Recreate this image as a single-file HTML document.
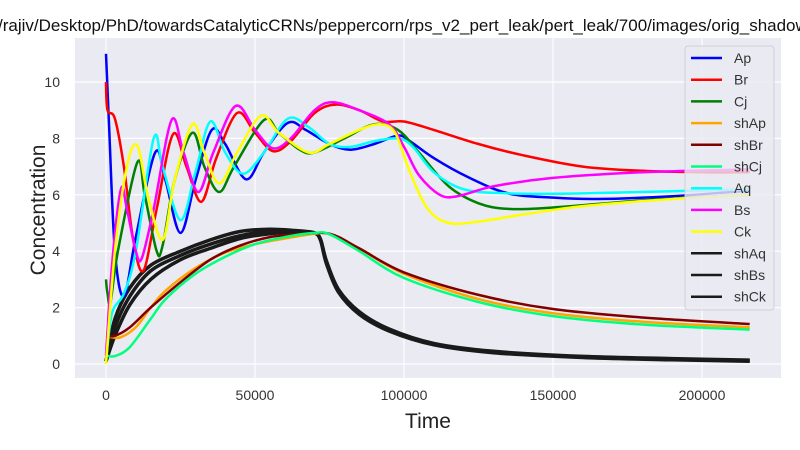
<!DOCTYPE html>
<html><head><meta charset="utf-8"><style>
body{margin:0;background:#fff}
svg{font-family:"Liberation Sans",Arial,sans-serif;display:block}
</style></head><body>
<svg id="chart" width="800" height="450" viewBox="0 0 800 450">
<text x="-2" y="31" font-size="17" fill="#111">/rajiv/Desktop/PhD/towardsCatalyticCRNs/peppercorn/rps_v2_pert_leak/pert_leak/700/images/orig_shadow_plot.png</text>
<rect x="75" y="38" width="706" height="340" fill="#eaeaf2"/>
<g id="grid"></g>
<g id="series"></g>
<g id="ticks"></g>
<text x="428" y="428" font-size="21" text-anchor="middle" fill="#222">Time</text>
<text transform="translate(45,210) rotate(-90)" font-size="21" text-anchor="middle" fill="#222">Concentration</text>
<g id="legend"></g>
</svg>
<script>
const xTicks=[0,50000,100000,150000,200000];
const yTicks=[0,2,4,6,8,10];
const names=["Ap","Br","Cj","shAp","shBr","shCj","Aq","Bs","Ck","shAq","shBs","shCk"];
const colors=["#0000ff","#ff0000","#008000","#ffa500","#800000","#00ff7f","#00ffff","#ff00ff","#ffff00","#1a1a1a","#1a1a1a","#1a1a1a"];
// points: [time in thousands, concentration]
const Ap=[[0,11],[1,8.5],[3,4],[6,2.4],[10,4.5],[16.5,7.5],[20,6.5],[25,4.65],[30,6.5],[35.5,8.3],[40,7.8],[47,6.55],[53,7.5],[61,8.55],[67,8.3],[75,7.8],[82,7.6],[90,7.8],[98,8.1],[102,7.9],[110,7.3],[122,6.6],[135,6.05],[150,5.9],[165,5.85],[190,5.95],[216,6.15]];
const Br=[[0,10],[0.5,9],[3,8.7],[6,7],[9,4.5],[12.5,3.3],[17,5.5],[22.5,8.15],[27,7],[32,5.75],[37,7.3],[44,8.9],[50,8.2],[56,7.55],[62,7.9],[70,8.9],[77,9.2],[85,9.0],[93,8.6],[100,8.6],[110,8.3],[125,7.8],[140,7.4],[160,7.0],[180,6.85],[200,6.8],[216,6.8]];
const Cj=[[0,3],[0.5,2.5],[1.5,2.2],[4,4],[10.5,7.15],[13,6],[17,4],[19,4.2],[23,6.5],[29,8.2],[33,7],[38,6.1],[43,7],[53,8.65],[58,8.2],[65,7.6],[70,7.5],[80,8],[90,8.5],[98,8.3],[105,7.5],[115,6.3],[125,5.7],[135,5.5],[150,5.55],[180,5.8],[216,6.0]];
const shAp=[[0,1],[2,0.95],[5,0.95],[10,1.3],[15,2],[20,2.6],[30,3.4],[40,3.95],[50,4.25],[60,4.45],[70,4.62],[75,4.6],[85,4.1],[100,3.2],[125,2.3],[150,1.8],[180,1.5],[216,1.3]];
const shBr=[[0,1],[3,1],[8,1.3],[15,2],[25,2.9],[35,3.7],[45,4.2],[55,4.5],[65,4.6],[75,4.62],[85,4.1],[100,3.25],[125,2.45],[150,1.95],[180,1.65],[216,1.42]];
const shCj=[[0,0.3],[3,0.28],[8,0.6],[15,1.6],[20,2.3],[30,3.2],[40,3.8],[50,4.25],[60,4.5],[70,4.65],[75,4.6],[85,4.0],[100,3.05],[125,2.2],[150,1.7],[180,1.4],[216,1.22]];
const Aq=[[0,0.1],[2,1.8],[6,2.5],[10,4],[16,8.0],[19,7],[25,5.1],[30,6.8],[35,8.6],[40,7.5],[46,6.75],[53,7.5],[61,8.7],[68,8.4],[75,7.8],[82,7.7],[90,7.9],[98,8.0],[103,7.7],[110,6.8],[120,6.2],[135,6.05],[160,6.05],[216,6.2]];
const Bs=[[0,0.3],[2,3.5],[5,6.2],[7,5.5],[10,4],[12,3.75],[16,5.5],[22,8.65],[26,7.5],[31,6.1],[36,7.5],[43.5,9.15],[50,8.3],[56,7.65],[62,8],[70,9],[76,9.28],[85,9.0],[95,8.5],[100,7.7],[105,6.7],[112,6.0],[118,5.95],[130,6.3],[150,6.6],[180,6.8],[216,6.9]];
const Ck=[[0,0],[3,4],[7,7],[10.5,7.75],[14,6],[19,4.4],[23,6.5],[29,8.5],[33,7.5],[38,6.4],[44,7.5],[52,8.8],[58,8.2],[68,7.5],[75,7.8],[85,8.3],[92,8.5],[97,8.2],[102,6.8],[108,5.5],[115,5.0],[125,5.05],[140,5.3],[160,5.6],[190,5.85],[216,6.0]];
const shAq=[[0,0.1],[3,1.6],[8,2.7],[15,3.5],[25,4.0],[35,4.4],[45,4.7],[55,4.78],[65,4.72],[70,4.65],[72,4.4],[74,3.6],[78,2.6],[85,1.8],[95,1.2],[110,0.7],[130,0.42],[160,0.25],[190,0.17],[216,0.12]];
const shBs=[[0,0.1],[3,1.3],[8,2.4],[15,3.3],[25,3.85],[35,4.25],[45,4.55],[55,4.7],[65,4.7],[70,4.65],[72,4.42],[74,3.65],[78,2.65],[85,1.85],[95,1.24],[110,0.73],[130,0.45],[160,0.27],[190,0.19],[216,0.14]];
const shCk=[[0,0.1],[3,1.0],[8,2.1],[15,3.0],[25,3.7],[35,4.1],[45,4.45],[55,4.62],[65,4.68],[70,4.65],[72,4.38],[74,3.55],[78,2.55],[85,1.76],[95,1.17],[110,0.68],[130,0.4],[160,0.23],[190,0.15],[216,0.1]];
const seriesData=[Ap,Br,Cj,shAp,shBr,shCj,Aq,Bs,Ck,shAq,shBs,shCk];
const drawOrder=[9,10,11,3,4,5,0,1,2,6,7,8];

const NS="http://www.w3.org/2000/svg";
function X(t){return 106+t/50000*149;}
function Y(v){return 364-v*28.2;}
function mk(tag,attrs,parent){const e=document.createElementNS(NS,tag);for(const k in attrs)e.setAttribute(k,attrs[k]);parent.appendChild(e);return e;}
const grid=document.getElementById('grid'),ticks=document.getElementById('ticks');
xTicks.forEach(t=>{
  const l=mk('line',{x1:X(t),x2:X(t),y1:38,y2:378,stroke:'#fff','stroke-width':1.2},grid);
  
  
  const tx=mk('text',{x:X(t),y:400,'font-size':14,'text-anchor':'middle',fill:'#333'},ticks);
  tx.textContent=t;
  
  
});
yTicks.forEach(v=>{
  const l=mk('line',{x1:75,x2:781,y1:Y(v),y2:Y(v),stroke:'#fff','stroke-width':1.2},grid);
  
  
  const tx=mk('text',{x:60,y:Y(v)+5,'font-size':14,'text-anchor':'end',fill:'#333'},ticks);
  tx.textContent=v;
  
  
});
function pathFor(pts){
  const p=pts.map(d=>[X(d[0]*1000),Y(d[1])]);
  let s='M'+p[0][0].toFixed(1)+','+p[0][1].toFixed(1);
  for(let i=0;i<p.length-1;i++){
    const p0=p[i-1]||p[i],p1=p[i],p2=p[i+1],p3=p[i+2]||p2;
    const c1=[p1[0]+(p2[0]-p0[0])/6,p1[1]+(p2[1]-p0[1])/6];
    const c2=[p2[0]-(p3[0]-p1[0])/6,p2[1]-(p3[1]-p1[1])/6];
    s+='C'+c1.map(n=>n.toFixed(1))+' '+c2.map(n=>n.toFixed(1))+' '+p2.map(n=>n.toFixed(1));
  }
  return s;
}
const sg=document.getElementById('series');
drawOrder.forEach(i=>{
  const path=mk('path',{d:pathFor(seriesData[i]),fill:'none',stroke:colors[i],'stroke-width':i>=9?3.5:2.5,'stroke-linejoin':'round'},sg);
  
  
});
const lg=document.getElementById('legend');
mk('rect',{x:685,y:46,width:89,height:264,rx:3,fill:'#eaeaf2','fill-opacity':0.8,stroke:'#d0d0d8'},lg);
names.forEach((n,i)=>{
  const y=58+i*21.7;
  const ln=mk('line',{x1:691,x2:722,y1:y,y2:y,stroke:colors[i],'stroke-width':2.5},lg);
  
  
  const tx=mk('text',{x:734,y:y+5,'font-size':14,fill:'#333'},lg);
  tx.textContent=n;
  
  
});
</script>
</body></html>
